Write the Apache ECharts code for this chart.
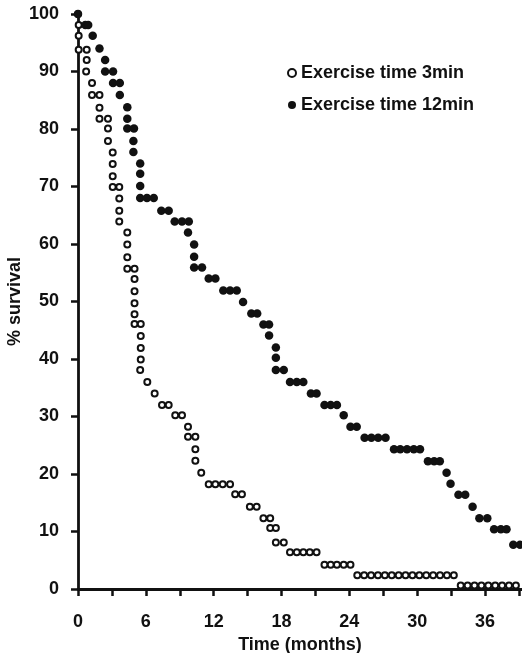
<!DOCTYPE html>
<html>
<head>
<meta charset="utf-8">
<title>Survival by exercise time</title>
<script src="https://cdn.jsdelivr.net/npm/echarts@6/dist/echarts.min.js"></script>
<style>
  html, body { margin: 0; padding: 0; background: #fff; }
  #chart { width: 522px; height: 653px; }
</style>
</head>
<body>
<div id="chart"></div>
<script>
// Survival (%) against time (months), one dot per step of the curve
const xTickLabels = [0, 6, 12, 18, 24, 30, 36];

const survival3min = [
  [0, 100], [0.06, 98.1], [0.06, 96.2], [0.06, 93.8], [0.77, 93.8], [0.77, 92.0],
  [0.72, 90.0], [1.24, 88.0], [1.24, 85.9], [1.9, 85.9], [1.9, 83.7], [1.9, 81.8],
  [2.65, 81.8], [2.65, 80.1], [2.65, 77.9], [3.07, 75.9], [3.07, 73.9], [3.07, 71.8],
  [3.07, 69.9], [3.65, 69.9], [3.65, 67.9], [3.65, 65.8], [3.65, 63.9], [4.36, 62.0],
  [4.36, 59.9], [4.36, 57.7], [4.36, 55.7], [5.0, 55.7], [5.0, 53.9], [5.0, 51.8],
  [5.0, 49.7], [5.0, 47.8], [5.0, 46.1], [5.55, 46.1], [5.55, 44.0], [5.55, 41.9],
  [5.55, 39.9], [5.5, 38.1], [6.13, 36.0], [6.78, 34.0], [7.43, 32.0], [8.02, 32.0],
  [8.6, 30.2], [9.2, 30.2], [9.73, 28.2], [9.73, 26.5], [10.38, 26.5], [10.38, 24.3],
  [10.38, 22.3], [10.9, 20.2], [11.56, 18.2], [12.15, 18.2], [12.8, 18.2], [13.45, 18.2],
  [13.9, 16.5], [14.5, 16.5], [15.2, 14.3], [15.8, 14.3], [16.4, 12.3], [17.0, 12.3],
  [17.0, 10.6], [17.5, 10.6], [17.5, 8.1], [18.2, 8.1],
  [18.75, 6.4], [19.35, 6.4], [19.93, 6.4], [20.5, 6.4], [21.1, 6.4],
  [21.8, 4.2], [22.35, 4.2], [22.9, 4.2], [23.5, 4.2], [24.1, 4.2],
  [24.7, 2.4], [25.31, 2.4], [25.92, 2.4], [26.53, 2.4], [27.14, 2.4], [27.75, 2.4],
  [28.36, 2.4], [28.97, 2.4], [29.58, 2.4], [30.19, 2.4], [30.8, 2.4], [31.41, 2.4],
  [32.02, 2.4], [32.63, 2.4], [33.24, 2.4],
  [33.85, 0.6], [34.46, 0.6], [35.07, 0.6], [35.68, 0.6], [36.29, 0.6], [36.9, 0.6],
  [37.51, 0.6], [38.12, 0.6], [38.73, 0.6], [39.3, 0.6]
];

const survival12min = [
  [0, 100], [0.65, 98.1], [0.9, 98.1], [1.3, 96.2], [1.9, 94.0], [2.4, 92.0],
  [2.4, 90.0], [3.1, 90.0], [3.1, 88.0], [3.7, 88.0], [3.7, 85.9], [4.36, 83.8],
  [4.36, 81.8], [4.36, 80.1], [4.95, 80.1], [4.9, 77.9], [4.9, 76.0], [5.5, 74.0],
  [5.5, 72.2], [5.5, 70.1], [5.5, 68.0], [6.1, 68.0], [6.7, 68.0], [7.37, 65.8],
  [8.02, 65.8], [8.55, 63.9], [9.2, 63.9], [9.8, 63.9], [9.73, 62.0], [10.27, 59.9],
  [10.27, 57.8], [10.27, 55.9], [10.97, 55.9], [11.56, 54.0], [12.15, 54.0],
  [12.85, 51.9], [13.45, 51.9], [14.04, 51.9], [14.6, 49.9], [15.33, 47.9],
  [15.85, 47.9], [16.4, 46.0], [16.9, 46.0], [16.9, 44.1], [17.5, 42.0], [17.5, 40.2],
  [17.5, 38.1], [18.2, 38.1], [18.75, 36.0], [19.35, 36.0], [19.93, 36.0],
  [20.6, 34.0], [21.1, 34.0], [21.8, 32.0], [22.35, 32.0], [22.9, 32.0], [23.5, 30.2],
  [24.1, 28.2], [24.65, 28.2], [25.35, 26.3], [25.95, 26.3], [26.55, 26.3], [27.2, 26.3],
  [27.95, 24.3], [28.5, 24.3], [29.1, 24.3], [29.7, 24.3], [30.25, 24.3],
  [30.95, 22.2], [31.5, 22.2], [32.0, 22.2], [32.6, 20.2], [32.95, 18.3],
  [33.65, 16.4], [34.25, 16.4], [34.9, 14.3], [35.5, 12.3], [36.2, 12.3],
  [36.8, 10.4], [37.4, 10.4], [37.9, 10.4], [38.5, 7.7], [39.1, 7.7]
];

const seriesNames = ['Exercise time 3min', 'Exercise time 12min'];

const FONT = '"Liberation Sans", Arial, sans-serif';
const INK = '#111';

const chart = echarts.init(document.getElementById('chart'), null, { renderer: 'canvas' });

chart.setOption({
  backgroundColor: '#fff',
  animation: false,
  grid: { left: 78, top: 14, width: 444, height: 575, outerBoundsMode: 'none', containLabel: false },
  legend: {
    orient: 'vertical',
    left: 282,
    top: 59,
    itemWidth: 8,
    itemHeight: 8,
    itemGap: 14,
    icon: 'circle',
    textStyle: { fontFamily: FONT, fontWeight: 'bold', fontSize: 18, color: INK, lineHeight: 18 },
    data: seriesNames
  },
  xAxis: {
    type: 'value',
    min: 0,
    max: 39.27,
    interval: 3,
    offset: 10,
    name: 'Time (months)',
    nameLocation: 'middle',
    nameGap: 37,
    nameMoveOverlap: false,
    nameTextStyle: { fontFamily: FONT, fontWeight: 'bold', fontSize: 18, color: INK },
    axisLine: { show: true, lineStyle: { color: INK, width: 2.8 } },
    axisTick: { show: true, length: 7, inside: false, lineStyle: { color: INK, width: 2.5 } },
    axisLabel: {
      margin: 14,
      fontFamily: FONT, fontWeight: 'bold', fontSize: 18, color: INK,
      showMaxLabel: false,
      formatter: v => (xTickLabels.indexOf(v) >= 0 ? String(v) : '')
    },
    splitLine: { show: false }
  },
  yAxis: {
    type: 'value',
    min: 0,
    max: 100,
    interval: 10,
    offset: 10,
    name: '% survival',
    nameLocation: 'middle',
    nameRotate: 90,
    nameGap: 44,
    nameMoveOverlap: false,
    nameTextStyle: { fontFamily: FONT, fontWeight: 'bold', fontSize: 18, color: INK },
    axisLine: { show: true, lineStyle: { color: INK, width: 2.8 } },
    axisTick: { show: true, length: 7, lineStyle: { color: INK, width: 2.5 } },
    axisLabel: { margin: 9, fontFamily: FONT, fontWeight: 'bold', fontSize: 18, color: INK },
    splitLine: { show: false }
  },
  series: [
    {
      name: seriesNames[0],
      type: 'scatter',
      data: survival3min,
      symbol: 'circle',
      symbolSize: 6,
      clip: true,
      itemStyle: { color: '#fff', borderColor: INK, borderWidth: 2, opacity: 1 }
    },
    {
      name: seriesNames[1],
      type: 'scatter',
      data: survival12min,
      symbol: 'circle',
      symbolSize: 8.5,
      clip: true,
      itemStyle: { color: INK, opacity: 1 }
    }
  ]
});
</script>
</body>
</html>
